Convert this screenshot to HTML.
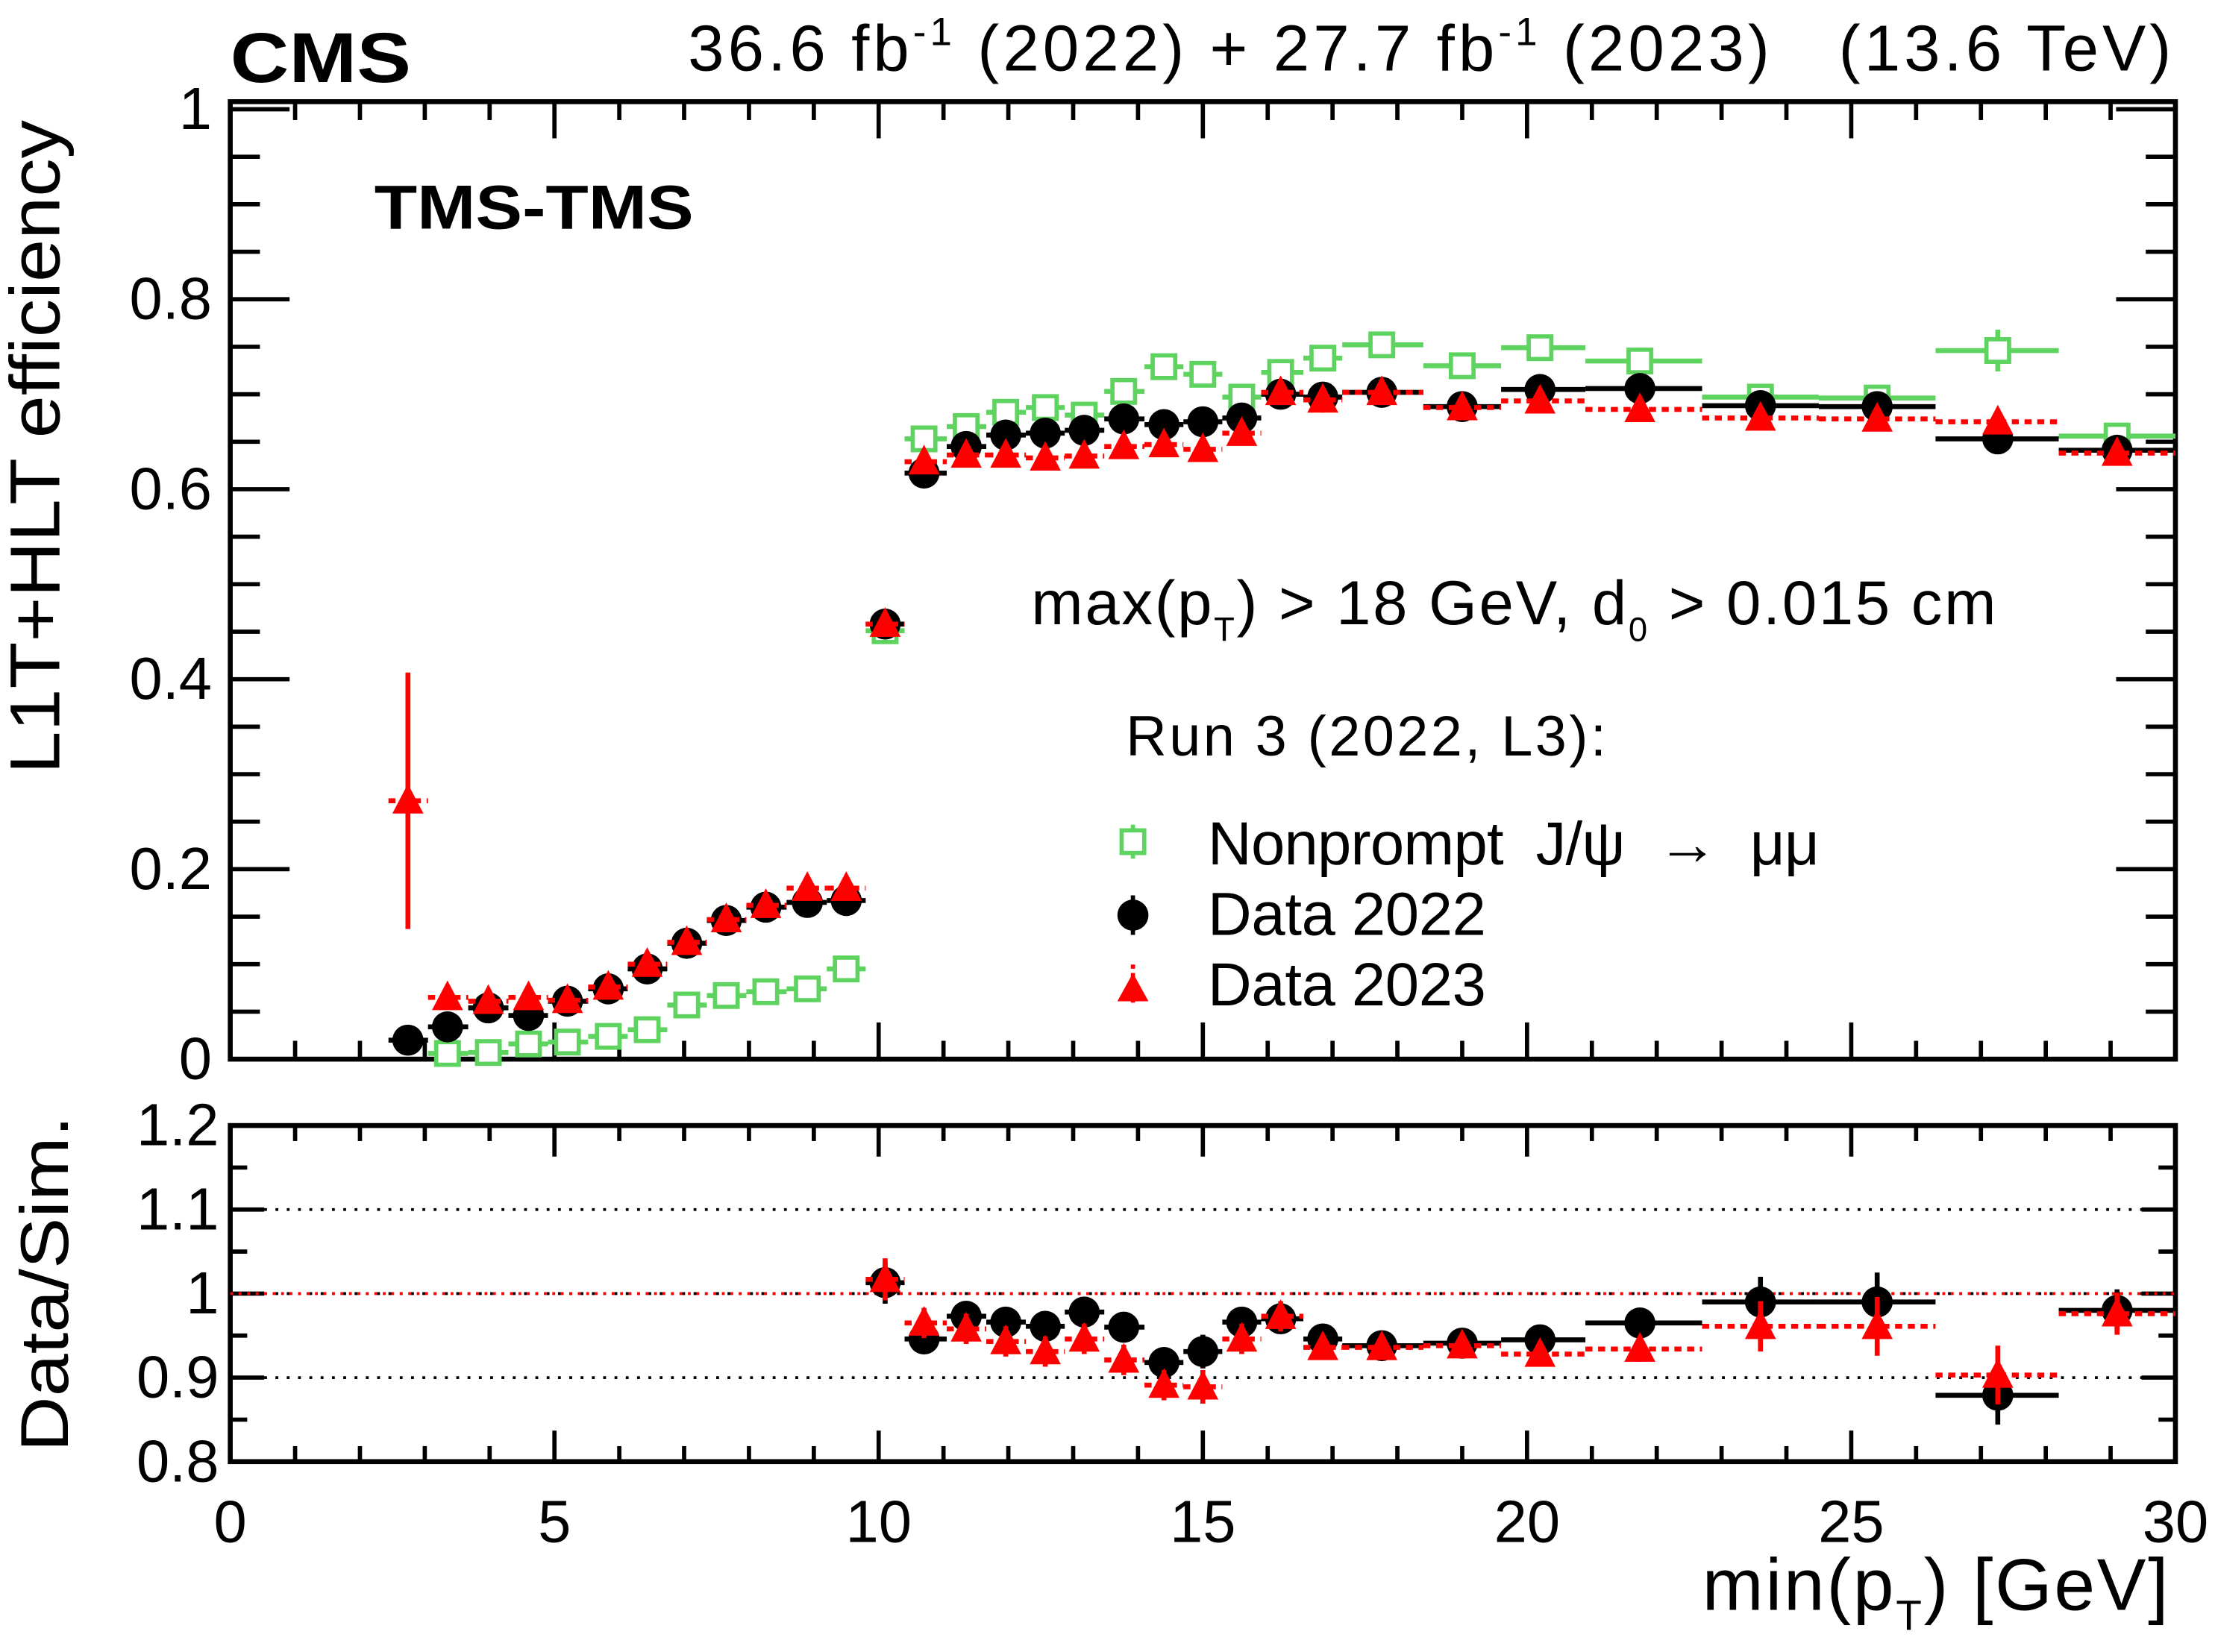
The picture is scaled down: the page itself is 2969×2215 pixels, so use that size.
<!DOCTYPE html>
<html><head><meta charset="utf-8"><style>
html,body{margin:0;padding:0;background:#fff}
svg{display:block}
text{font-family:"Liberation Sans",Arial,sans-serif;fill:#000}
</style></head><body>
<svg id="chart" width="2969" height="2215" viewBox="0 0 1568 1169.8" xmlns="http://www.w3.org/2000/svg">
<g id="frames"></g>
<g id="marks"></g>
<text x="163" y="58" font-size="50" font-weight="bold" textLength="128" lengthAdjust="spacingAndGlyphs">CMS</text>
<text x="487" y="50" font-size="46" textLength="1050" lengthAdjust="spacing" xml:space="preserve">36.6 fb<tspan dy="-18" font-size="28">-1</tspan><tspan dy="18"> (2022) + 27.7 fb</tspan><tspan dy="-18" font-size="28">-1</tspan><tspan dy="18"> (2023)   (13.6 TeV)</tspan></text>
<text x="265" y="162" font-size="44" font-weight="bold" textLength="226" lengthAdjust="spacingAndGlyphs">TMS-TMS</text>
<text transform="translate(42,548) rotate(-90)" font-size="50" textLength="463" lengthAdjust="spacingAndGlyphs">L1T+HLT efficiency</text>
<text transform="translate(48,1028) rotate(-90)" font-size="48" textLength="238" lengthAdjust="spacingAndGlyphs">Data/Sim.</text>
<text x="1205" y="1140" font-size="52" textLength="330" lengthAdjust="spacing">min(p<tspan dy="14" font-size="30">T</tspan><tspan dy="-14">) [GeV]</tspan></text>
<text x="730" y="442" font-size="44" textLength="683" lengthAdjust="spacing">max(p<tspan dy="12" font-size="24">T</tspan><tspan dy="-12">) &gt; 18 GeV, d</tspan><tspan dy="12" font-size="24">0</tspan><tspan dy="-12"> &gt; 0.015 cm</tspan></text>
<text x="797" y="535" font-size="40" textLength="340" lengthAdjust="spacing">Run 3 (2022, L3):</text>
<g>
<line x1="802" y1="584" x2="802" y2="608" stroke="#5fd35f" stroke-width="3"/>
<rect x="794" y="588" width="16" height="16" fill="#fff" stroke="#5fd35f" stroke-width="3"/>
<text x="855" y="612" font-size="43" textLength="433" lengthAdjust="spacing" xml:space="preserve">Nonprompt  J/ψ  →  μμ</text></g>
<g>
<line x1="802" y1="634" x2="802" y2="662" stroke="#000" stroke-width="3"/>
<circle cx="802" cy="648" r="11"/>
<text x="855" y="662" font-size="43" textLength="197" lengthAdjust="spacing">Data 2022</text></g>
<g>
<line x1="802" y1="683" x2="802" y2="713" stroke="#f00" stroke-width="3" stroke-dasharray="3,3"/>
<polygon points="802,689 813,709 791,709" fill="#f00"/>
<text x="855" y="712" font-size="43" textLength="197" lengthAdjust="spacing">Data 2023</text></g>
</svg>
<script>
const binLo=[2.44,3.05,3.67,4.29,4.9,5.52,6.13,6.74,7.35,7.96,8.58,9.2,9.8,10.4,11.05,11.66,12.27,12.87,13.48,14.1,14.7,15.3,15.9,16.55,17.15,18.4,19.6,20.9,22.7,24.5,26.3,28.2];
const binHi=[3.05,3.67,4.29,4.9,5.52,6.13,6.74,7.35,7.96,8.58,9.2,9.8,10.4,11.05,11.66,12.27,12.87,13.48,14.1,14.7,15.3,15.9,16.55,17.15,18.4,19.6,20.9,22.7,24.5,26.3,28.2,30];
const binCenter=[2.74,3.35,3.98,4.6,5.2,5.83,6.43,7.04,7.65,8.26,8.9,9.5,10.1,10.7,11.35,11.96,12.57,13.17,13.78,14.4,15.0,15.6,16.2,16.85,17.76,19.0,20.2,21.74,23.6,25.4,27.26,29.1];
const eff2022=[0.02,0.034,0.054,0.046,0.061,0.074,0.095,0.122,0.146,0.16,0.165,0.167,0.458,0.617,0.645,0.657,0.659,0.662,0.674,0.668,0.671,0.675,0.700,0.697,0.702,0.687,0.705,0.706,0.688,0.687,0.653,0.641];
const eff2023=[0.272,0.065,0.061,0.065,0.062,0.076,0.1,0.123,0.147,0.162,0.18,0.18,0.458,0.629,0.636,0.636,0.633,0.635,0.645,0.647,0.642,0.659,0.702,0.694,0.702,0.686,0.693,0.684,0.675,0.674,0.671,0.638];
const effMC=[null,0.006,0.007,0.016,0.018,0.024,0.031,0.057,0.067,0.071,0.074,0.095,0.451,0.653,0.666,0.681,0.686,0.678,0.703,0.729,0.721,0.697,0.723,0.738,0.752,0.730,0.749,0.735,0.697,0.696,0.746,0.656];
const err2022=[0.012,0.01,0.01,0.01,0.01,0.01,0.01,0.01,0.01,0.01,0.01,0.01,0.01,0.01,0.01,0.01,0.01,0.01,0.01,0.01,0.01,0.01,0.01,0.01,0.008,0.008,0.008,0.008,0.01,0.01,0.012,0.012];
const err2023=[0.135,0.01,0.01,0.01,0.01,0.01,0.01,0.01,0.01,0.01,0.01,0.01,0.01,0.01,0.01,0.01,0.01,0.01,0.01,0.01,0.01,0.01,0.01,0.01,0.008,0.008,0.008,0.008,0.01,0.01,0.012,0.012];
const errMC=[0,0.008,0.008,0.008,0.008,0.008,0.008,0.008,0.008,0.008,0.008,0.008,0.008,0.01,0.01,0.01,0.01,0.01,0.01,0.01,0.01,0.01,0.01,0.01,0.008,0.01,0.01,0.01,0.012,0.012,0.022,0.012];
const ratio2022=[null,null,null,null,null,null,null,null,null,null,null,null,1.013,0.946,0.973,0.966,0.961,0.978,0.96,0.918,0.931,0.966,0.97,0.946,0.938,0.941,0.945,0.965,0.99,0.99,0.879,0.98];
const ratio2023=[null,null,null,null,null,null,null,null,null,null,null,null,1.017,0.965,0.958,0.943,0.931,0.946,0.921,0.891,0.889,0.946,0.973,0.936,0.936,0.938,0.928,0.934,0.961,0.961,0.903,0.976];
const ratioErr=[0,0,0,0,0,0,0,0,0,0,0,0,0.025,0.018,0.018,0.018,0.018,0.018,0.018,0.018,0.02,0.018,0.018,0.015,0.012,0.012,0.015,0.015,0.03,0.035,0.035,0.025];
const xTicks=[0,5,10,15,20,25,30];
const yTicks=[0,0.2,0.4,0.6,0.8,1];
const yTickLabels=["0","0.2","0.4","0.6","0.8","1"];
const rTicks=[0.8,0.9,1,1.1,1.2];
const rTickLabels=["0.8","0.9","1","1.1","1.2"];

const NS="http://www.w3.org/2000/svg";
const L=163,R=1540,MT=72,MB=750,RT=797,RB=1035;
const X=v=>L+(v-0)/30*(R-L);
const Y=v=>MB-v/1.008*(MB-MT);
const YR=v=>RB-(v-0.8)/0.4*(RB-RT);
const frames=document.getElementById('frames'),marks=document.getElementById('marks');
function el(tag,attrs,parent){const e=document.createElementNS(NS,tag);for(const k in attrs)e.setAttribute(k,attrs[k]);parent.appendChild(e);return e;}

const f1=el('rect',{x:L,y:MT,width:R-L,height:MB-MT,fill:'none',stroke:'#000','stroke-width':3.5},frames);


const f2=el('rect',{x:L,y:RT,width:R-L,height:RB-RT,fill:'none',stroke:'#000','stroke-width':3.5},frames);


for(let v=0;v<=30;v++){
  const maj=v%5===0, x=X(v);
  el('line',{x1:x,y1:MB,x2:x,y2:MB-(maj?26:13),stroke:'#000','stroke-width':3},frames);
  el('line',{x1:x,y1:MT,x2:x,y2:MT+(maj?26:13),stroke:'#000','stroke-width':3},frames);
  el('line',{x1:x,y1:RB,x2:x,y2:RB-(maj?22:11),stroke:'#000','stroke-width':3},frames);
  el('line',{x1:x,y1:RT,x2:x,y2:RT+(maj?22:11),stroke:'#000','stroke-width':3},frames);
}
xTicks.forEach(v=>{const t=el('text',{x:X(v),y:1092,'font-size':42,'text-anchor':'middle'},frames);t.textContent=v;

});
for(let i=0;i<=20;i++){const v=i*0.05,y=Y(v),maj=i%4===0;
  el('line',{x1:L,y1:y,x2:L+(maj?42:21),y2:y,stroke:'#000','stroke-width':3},frames);
  el('line',{x1:R,y1:y,x2:R-(maj?42:21),y2:y,stroke:'#000','stroke-width':3},frames);}
yTicks.forEach((v,i)=>{const t=el('text',{x:150,y:Y(v)+14,'font-size':42,'text-anchor':'end'},frames);t.textContent=yTickLabels[i];

});
for(let i=0;i<=8;i++){const v=0.8+i*0.05,y=YR(v),maj=i%2===0;
  el('line',{x1:L,y1:y,x2:L+(maj?24:12),y2:y,stroke:'#000','stroke-width':3},frames);
  el('line',{x1:R,y1:y,x2:R-(maj?24:12),y2:y,stroke:'#000','stroke-width':3},frames);}
rTicks.forEach((v,i)=>{const t=el('text',{x:155,y:YR(v)+14,'font-size':42,'text-anchor':'end'},frames);t.textContent=rTickLabels[i];

});
[0.9,1.0,1.1].forEach(v=>{const g=el('line',{x1:L,y1:YR(v),x2:R,y2:YR(v),stroke:'#000','stroke-width':2,'stroke-dasharray':'2,6'},frames);

});
const rl=el('line',{x1:L,y1:YR(1),x2:R,y2:YR(1),stroke:'#f00','stroke-width':2,'stroke-dasharray':'2,4'},frames);



function errbar(i,val,err,Yf,color,dash){
  const g=el('g',{},marks);
  const a={stroke:color,'stroke-width':3.5};
  if(dash)a['stroke-dasharray']='5,4';
  el('line',Object.assign({x1:X(binLo[i]),y1:Yf(val),x2:X(binHi[i]),y2:Yf(val)},a),g);
  el('line',{x1:X(binCenter[i]),y1:Yf(val-err),x2:X(binCenter[i]),y2:Yf(val+err),stroke:color,'stroke-width':3.5},g);
  return g;
}
effMC.forEach((v,i)=>{if(v==null)return;
  const g=errbar(i,v,errMC[i],Y,'#5fd35f',false);
  
  
  el('rect',{x:X(binCenter[i])-8,y:Y(v)-8,width:16,height:16,fill:'#fff',stroke:'#5fd35f','stroke-width':3},g);});
function drawData(vals,errs,Yf,name2022,name2023,vals23,errs23){
  vals.forEach((v,i)=>{if(v==null)return;
    const g=errbar(i,v,errs[i],Yf,'#000',false);
    
    
    el('circle',{cx:X(binCenter[i]),cy:Yf(v),r:11,fill:'#000'},g);});
  vals23.forEach((v,i)=>{if(v==null)return;
    const g=errbar(i,v,errs23[i],Yf,'#f00',true);
    
    
    const cx=X(binCenter[i]),cy=Yf(v);
    el('polygon',{points:`${cx},${cy-12} ${cx+11},${cy+9} ${cx-11},${cy+9}`,fill:'#f00'},g);});
}
drawData(eff2022,err2022,Y,'data2022-point','data2023-point',eff2023,err2023);
drawData(ratio2022,ratioErr,YR,'ratio2022-point','ratio2023-point',ratio2023,ratioErr);
</script>
</body></html>
